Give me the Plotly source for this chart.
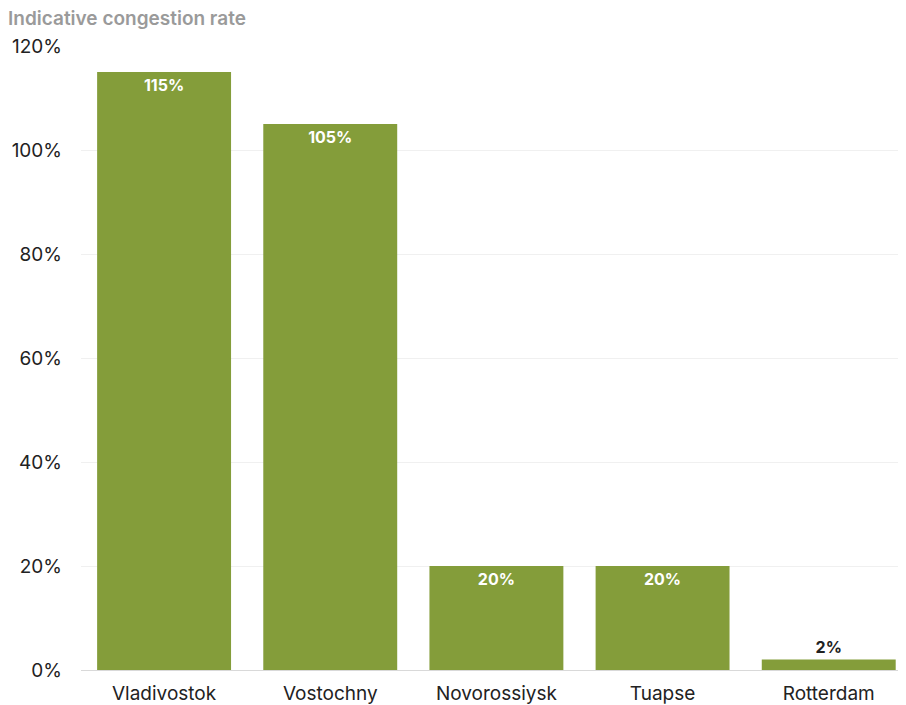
import plotly.graph_objects as go

ports = ["Vladivostok", "Vostochny", "Novorossiysk", "Tuapse", "Rotterdam"]
congestion = [115, 105, 20, 20, 2]
labels = ["115%", "105%", "20%", "20%", "2%"]
positions = ["inside", "inside", "inside", "inside", "outside"]
y_ticks = [0, 20, 40, 60, 80, 100, 120]
y_tick_labels = ["0%", "20%", "40%", "60%", "80%", "100%", "120%"]

FONT = "Inter, Roboto, sans-serif"
W, H = 898, 697  # page body has an 8px margin

fig = go.Figure(go.Bar(
    x=ports, y=congestion, text=labels, textposition=positions,
    insidetextanchor="end",
    insidetextfont=dict(color="white", size=16, family=FONT, weight="bold"),
    outsidetextfont=dict(color="#222222", size=16, family=FONT, weight="bold"),
    textangle=0, cliponaxis=False,
    marker=dict(color="#849d3a", line=dict(width=0)),
    hoverinfo="skip",
))

fig.update_layout(
    width=W, height=H,
    margin=dict(l=73, r=0, t=38, b=27),
    paper_bgcolor="white", plot_bgcolor="white",
    bargap=0.194,
    showlegend=False,
    font=dict(family=FONT, size=19, color="#222222"),
    title=dict(
        text="Indicative congestion rate",
        x=0, xref="container", xanchor="left",
        y=1 - 10 / H, yref="container", yanchor="middle",
        font=dict(size=19, color="#9a9a9a", family=FONT, weight=600),
    ),
)

fig.update_xaxes(
    showgrid=False, showline=False, ticks="",
    range=[-0.5, 4.465],
    ticklabelstandoff=10,
    tickfont=dict(size=19, color="#222222", family=FONT),
)
fig.update_yaxes(
    range=[0, 120], tickvals=y_ticks, ticktext=y_tick_labels,
    showgrid=True, gridcolor="#f0f0f0", gridwidth=1,
    zeroline=True, zerolinecolor="#d9d9d9", zerolinewidth=1,
    showline=False, ticks="", ticklabelstandoff=18,
    tickfont=dict(size=19, color="#222222", family=FONT),
)

fig.write_html("out.html")
